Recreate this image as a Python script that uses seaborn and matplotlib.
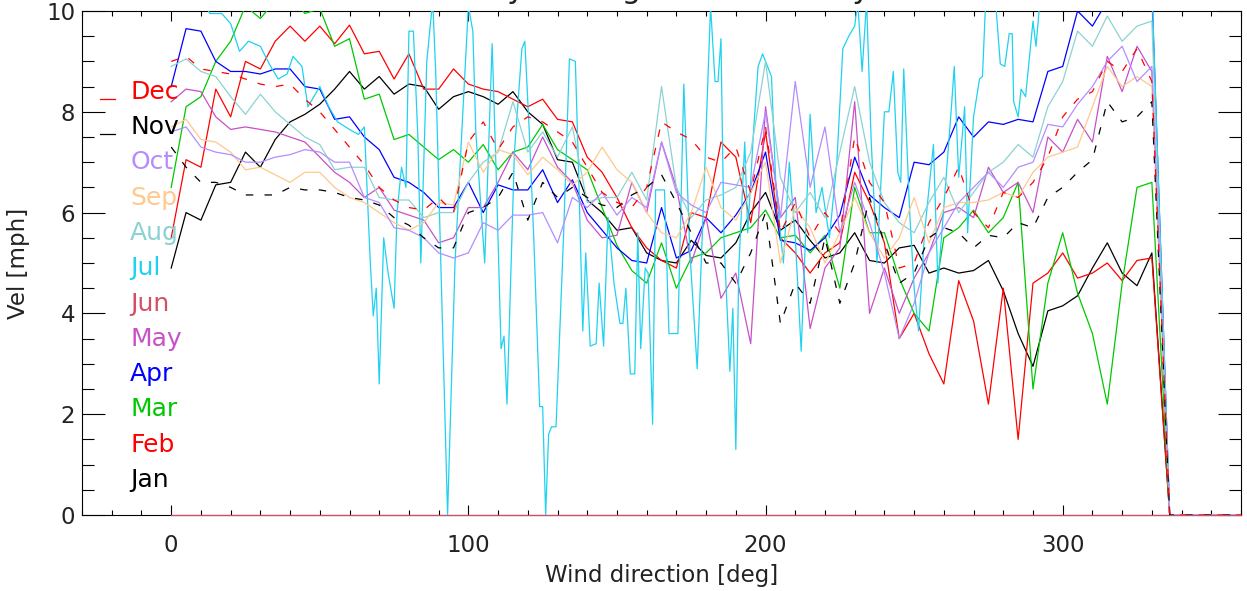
import matplotlib
matplotlib.use("Agg")
import matplotlib.pyplot as plt
from matplotlib.ticker import MultipleLocator
import seaborn as sns

# wind direction bins (deg); everything past ~335 deg has no data
deg = list(range(0, 331, 5)) + [336, 360]

jan = [4.9, 6.0, 5.85, 6.55, 6.6, 7.2, 6.9, 7.45, 7.8, 7.95, 8.15, 8.45, 8.8, 8.45, 8.7, 8.35, 8.55,
       8.5, 8.05, 8.3, 8.4, 8.3, 8.15, 8.4, 8.0, 7.75, 7.05, 7.0, 6.25, 6.0, 5.65, 5.7, 5.2, 5.05,
       5.0, 5.45, 5.15, 5.1, 5.4, 6.0, 6.4, 5.65, 5.85, 5.45, 5.1, 5.2, 5.6, 5.05, 5.0, 5.3, 5.35,
       4.8, 4.9, 4.8, 4.85, 5.05, 4.45, 3.6, 2.95, 4.05, 4.15, 4.35, 4.9, 5.4, 4.8, 4.55, 5.2,
       0.0, 0.0]
feb = [5.5, 7.05, 6.9, 8.45, 7.9, 9.0, 8.85, 9.4, 9.7, 9.4, 9.7, 9.35, 9.72, 9.15, 9.2, 8.65, 9.15,
       8.45, 8.45, 8.85, 8.55, 8.45, 8.4, 8.25, 8.1, 8.25, 7.85, 7.8, 7.1, 6.8, 6.3, 5.7, 5.3, 5.05,
       4.9, 6.0, 5.9, 7.4, 7.1, 5.8, 7.6, 5.5, 5.2, 4.8, 5.2, 5.4, 6.8, 6.2, 5.4, 3.5, 4.0,
       3.2, 2.6, 4.65, 3.85, 2.2, 4.5, 1.5, 4.6, 4.8, 5.2, 4.7, 4.8, 5.0, 4.65, 5.05, 5.1,
       0.0, 0.0]
mar = [6.5, 8.1, 8.3, 9.0, 9.4, 10.1, 9.85, 10.2, 10.3, 9.95, 10.05, 9.3, 9.45, 8.25, 8.35, 7.45, 7.55,
       7.3, 7.05, 7.25, 7.0, 7.35, 6.85, 7.2, 7.3, 7.75, 7.25, 7.05, 6.85, 6.1, 5.35, 4.85, 4.6, 5.4,
       4.5, 5.1, 5.2, 5.5, 5.6, 5.7, 6.05, 5.5, 5.55, 5.2, 5.55, 4.5, 6.5, 5.6, 5.6, 4.7, 4.0,
       3.65, 5.5, 5.7, 6.05, 5.6, 5.9, 6.6, 2.5, 4.6, 5.6, 4.4, 3.6, 2.2, 4.6, 6.5, 6.6,
       0.0, 0.0]
apr = [8.5, 9.65, 9.6, 9.0, 8.8, 8.8, 8.75, 8.85, 8.85, 8.5, 8.45, 7.85, 7.9, 7.5, 7.25, 6.7, 6.6,
       6.4, 6.1, 6.1, 6.6, 6.0, 6.55, 6.45, 6.45, 6.85, 6.2, 6.65, 6.0, 5.65, 5.3, 5.05, 5.0, 6.1,
       5.1, 5.25, 5.9, 5.6, 5.95, 6.4, 7.2, 5.45, 5.4, 5.25, 5.5, 5.95, 7.1, 6.35, 6.1, 5.9, 7.0,
       6.95, 7.2, 7.9, 7.5, 7.8, 7.75, 7.85, 7.8, 8.8, 8.9, 10.0, 9.7, 10.2, 10.3, 10.4, 10.4,
       0.0, 0.0]
may = [8.2, 8.45, 8.4, 7.9, 7.65, 7.7, 7.65, 7.6, 7.5, 7.4, 7.1, 6.8, 6.6, 6.3, 6.5, 6.05, 5.95,
       5.85, 5.4, 5.5, 6.1, 6.1, 6.6, 7.2, 6.85, 7.5, 6.9, 6.6, 5.85, 5.5, 5.55, 6.6, 6.0, 7.4,
       6.5, 5.0, 5.9, 4.3, 4.8, 3.4, 8.1, 5.9, 6.3, 3.7, 4.9, 5.3, 8.2, 4.0, 4.9, 4.0, 4.7,
       5.2, 6.0, 6.1, 5.9, 6.9, 6.4, 6.6, 6.0, 7.5, 7.2, 7.85, 7.4, 9.1, 8.4, 9.3, 8.8,
       0.0, 0.0]
# June has no measurements: flat zero line
jun_deg = [0, 360]
jun = [0.0, 0.0]
# July is very spiky, read on its own positions
jul_deg = [0, 5, 10, 13, 17, 20, 23, 26, 30, 33,
           36, 39, 41, 44, 46, 50, 53, 56, 60, 63,
           65, 67, 68, 69, 70, 71.5, 73, 75, 76, 77.5,
           79, 80, 81.5, 83, 84, 86, 88, 89, 93, 95.5,
           100, 101.5, 102.5, 105.5, 108, 109.5, 111, 112, 113, 115.5,
           118, 119, 120.5, 122, 124, 125, 126, 127, 128, 129.5,
           132, 134, 136, 137, 138.5, 139.5, 141, 143, 144, 145.5,
           147, 149, 151, 152, 153, 154.5, 156, 157, 158, 159.5,
           160.5, 162, 163, 166, 167.5, 170.5, 172.5, 174.5, 177, 179,
           181.5, 183, 184, 185, 186, 188, 189, 190, 191, 193,
           194, 196, 197.5, 199, 202, 203.5, 206, 208, 210, 212,
           213.5, 215, 217, 219, 221.5, 224, 226, 228, 230, 231,
           232.5, 234, 235.5, 237.5, 240, 241.5, 243, 244.5, 245.5, 246.5,
           248.5, 250, 251.5, 253.5, 256.5, 258, 260.5, 262.5, 263.5, 265,
           267, 268, 270, 272, 273, 274, 277, 279, 280.5, 282,
           283, 283.5, 285, 286, 287.5, 290, 291, 292.5, 300, 310,
           320, 330, 336, 360]
jul = [10.5, 10.6, 10.3, 9.95, 9.95, 9.75, 9.2, 9.4, 9.3, 8.95,
       8.65, 8.75, 9.1, 8.9, 8.1, 8.5, 8.1, 7.8, 7.65, 7.55,
       7.7, 5.0, 3.95, 4.5, 2.6, 5.5, 4.8, 4.1, 6.0, 6.9,
       6.5, 9.6, 9.6, 7.5, 5.0, 9.0, 10.2, 8.8, 0.0, 5.0,
       10.1, 9.6, 7.6, 5.0, 9.35, 6.5, 3.3, 3.55, 2.2, 7.2,
       9.25, 9.4, 7.6, 5.5, 2.15, 2.15, 0.0, 1.6, 1.75, 1.75,
       5.5, 9.05, 9.0, 7.0, 3.65, 5.2, 3.35, 3.4, 4.6, 3.35,
       5.9, 4.6, 3.8, 3.8, 4.5, 2.8, 2.8, 5.6, 3.3, 4.9,
       4.8, 1.8, 6.45, 6.45, 3.6, 3.6, 8.55, 5.25, 2.9, 6.0,
       10.1, 8.6, 8.6, 9.45, 5.5, 2.85, 4.1, 1.3, 4.9, 7.4,
       5.6, 7.65, 8.9, 9.15, 8.7, 6.5, 5.0, 7.0, 5.5, 3.25,
       5.6, 7.95, 6.0, 6.5, 5.5, 7.0, 9.25, 9.5, 9.7, 10.2,
       8.8, 10.2, 7.5, 5.0, 8.0, 8.0, 8.8, 6.8, 6.6, 8.85,
       6.0, 4.5, 3.65, 5.6, 7.35, 4.6, 6.5, 8.05, 8.9, 6.7,
       8.1, 5.6, 7.9, 8.65, 8.7, 10.1, 10.5, 8.95, 8.9, 9.55,
       9.55, 8.2, 7.9, 8.45, 8.3, 9.8, 9.3, 10.3, 10.6, 10.8,
       10.6, 10.5, 0.0, 0.0]
aug = [8.9, 9.05, 8.8, 8.7, 8.3, 7.95, 8.35, 8.0, 7.75, 7.5, 7.35, 6.85, 6.9, 6.9, 6.3, 6.25, 6.25,
       5.9, 6.0, 6.0, 6.6, 7.0, 7.2, 8.2, 7.2, 7.6, 7.1, 7.7, 6.2, 6.3, 6.3, 6.8, 6.25, 8.5,
       6.5, 5.9, 6.25, 6.35, 6.5, 7.2, 9.0, 6.7, 6.0, 6.4, 5.9, 7.2, 8.5, 7.0, 6.2, 5.8, 5.6,
       6.2, 6.7, 6.0, 6.4, 6.8, 7.0, 7.35, 7.1, 8.1, 8.6, 9.6, 9.3, 9.9, 9.4, 9.7, 9.8,
       0.0, 0.0]
sep = [7.7, 7.85, 7.45, 7.4, 7.2, 6.85, 6.9, 6.75, 6.6, 6.8, 6.8, 6.5, 6.3, 6.2, 6.0, 5.8, 5.65,
       5.8, 6.2, 6.15, 7.4, 6.8, 7.25, 7.15, 6.75, 7.1, 6.85, 6.55, 6.8, 7.3, 6.85, 6.6, 6.0, 5.6,
       5.5, 6.0, 6.9, 6.1, 5.85, 6.4, 7.0, 5.0, 6.1, 5.7, 5.0, 5.6, 6.3, 5.6, 5.1, 5.5, 6.3,
       5.4, 6.1, 6.2, 6.2, 6.25, 6.4, 6.3, 6.8, 7.1, 7.2, 7.3, 8.1, 8.9, 8.5, 8.7, 8.5,
       0.0, 0.0]
octo = [7.6, 7.7, 7.3, 7.2, 7.15, 7.0, 7.0, 7.1, 7.15, 7.25, 7.2, 7.0, 7.0, 6.3, 6.2, 5.7, 5.65,
        5.5, 5.2, 5.1, 5.2, 5.8, 5.65, 5.95, 5.95, 6.0, 5.4, 6.3, 6.1, 6.4, 5.95, 6.3, 6.1, 7.4,
        6.4, 6.15, 6.0, 6.6, 6.55, 6.5, 8.0, 5.9, 8.6, 6.5, 7.7, 5.6, 6.6, 5.8, 4.8, 3.5, 4.2,
        5.2, 5.7, 6.2, 6.5, 6.8, 6.5, 6.9, 7.0, 7.75, 7.7, 8.15, 8.5, 9.0, 9.3, 8.6, 8.9,
        0.0, 0.0]
nov = [7.3, 6.9, 6.6, 6.6, 6.5, 6.35, 6.35, 6.35, 6.5, 6.45, 6.45, 6.4, 6.3, 6.25, 6.15, 5.9, 5.75,
       5.5, 5.3, 5.3, 6.0, 6.1, 6.3, 6.8, 5.85, 6.6, 6.3, 6.5, 6.3, 6.15, 6.1, 6.35, 6.5, 6.75,
       6.2, 5.6, 5.0, 5.0, 4.6, 5.2, 6.0, 3.8, 4.6, 4.2, 5.5, 4.2, 5.0, 6.3, 5.4, 4.6, 4.8,
       5.5, 5.7, 5.6, 5.3, 5.55, 5.5, 5.8, 5.7, 6.3, 6.5, 6.8, 7.05, 8.2, 7.8, 7.9, 8.2,
       0.0, 0.0]
dec = [9.0, 9.1, 8.85, 8.8, 8.75, 8.65, 8.55, 8.5, 8.55, 8.25, 8.0, 7.65, 7.3, 6.95, 6.5, 6.25, 6.1,
       6.05, 6.3, 6.0, 7.4, 7.8, 7.25, 7.7, 7.9, 7.8, 7.6, 7.4, 6.9, 6.4, 6.2, 6.1, 6.5, 7.8,
       7.6, 7.45, 7.1, 7.0, 7.3, 6.4, 7.7, 5.6, 6.2, 5.5, 6.0, 5.6, 7.5, 6.6, 6.2, 4.9, 5.0,
       5.8, 6.3, 6.9, 6.0, 5.7, 6.4, 6.3, 6.6, 7.1, 7.9, 8.25, 8.4, 9.0, 8.8, 9.25, 8.6,
       0.0, 0.0]

months = ["Jan", "Feb", "Mar", "Apr", "May", "Jun", "Jul", "Aug", "Sep", "Oct", "Nov", "Dec"]
colors = ["black", "#ff0000", "#00c800", "#0000ff", "#c850c8", "#d25064",
          "#1ed2f0", "#8cd2d2", "#ffc88c", "#b48cff", "black", "#ff0000"]
series = [(deg, jan), (deg, feb), (deg, mar), (deg, apr), (deg, may), (jun_deg, jun),
          (jul_deg, jul), (deg, aug), (deg, sep), (deg, octo), (deg, nov), (deg, dec)]
dashed = (0, (6, 9))

plt.rcParams["font.family"] = ["DejaVu Sans"]
txt = "#222222"

fig = plt.figure(figsize=(12.47, 5.91), dpi=100)
ax = fig.add_axes([0.0658, 0.1286, 0.9294, 0.8528])

for name, col, (x, y) in zip(months, colors, series):
    ls = dashed if name in ("Nov", "Dec") else "-"
    # the all-zero June line sits on the bottom axis, keep it fully visible
    sns.lineplot(x=x, y=y, color=col, lw=0.9, linestyle=ls, ax=ax, zorder=3,
                 errorbar=None, sort=False, clip_on=(name != "Jun"))

# month labels stacked inside the plot (IDL style legend)
for i, (name, col) in enumerate(zip(months, colors)):
    ax.text(-13.8, 0.556 + 0.7 * i, name, color=col, fontsize=18, va="baseline", ha="left")
# short line samples for the dashed months
ax.plot([-23.9, -18.8], [0.556 + 0.7 * 11] * 2, color="#ff0000", lw=0.9)
ax.plot([-23.9, -18.8], [0.556 + 0.7 * 10] * 2, color="black", lw=0.9)

ax.set_xlim(-30, 360)
ax.set_ylim(0, 10)
ax.xaxis.set_major_locator(MultipleLocator(100))
ax.xaxis.set_minor_locator(MultipleLocator(10))
ax.yaxis.set_major_locator(MultipleLocator(2))
ax.yaxis.set_minor_locator(MultipleLocator(0.5))
ax.tick_params(which="both", direction="in", top=True, right=True, width=0.8,
               colors="black", labelcolor=txt, labelsize=16.5)
ax.tick_params(axis="y", which="major", length=16.5, pad=5)
ax.tick_params(axis="y", which="minor", length=8.5)
ax.tick_params(axis="x", which="major", length=7, pad=14)
ax.tick_params(axis="x", which="minor", length=3.5)
for s in ax.spines.values():
    s.set_linewidth(0.8)
    s.set_color("black")

ax.set_xlabel("Wind direction [deg]", fontsize=16.5, color=txt, labelpad=5)
ax.set_ylabel("Vel [mph]", fontsize=16.5, color=txt)
ax.yaxis.set_label_coords(-0.045, 0.5)

# title sits above the canvas, only its descenders show
fig.text(0.323, 1 + 2.5 / 591, "Monthly average wind velocity", fontsize=22,
         color=txt, ha="left", va="baseline")

fig.savefig("out.png", dpi=100)
